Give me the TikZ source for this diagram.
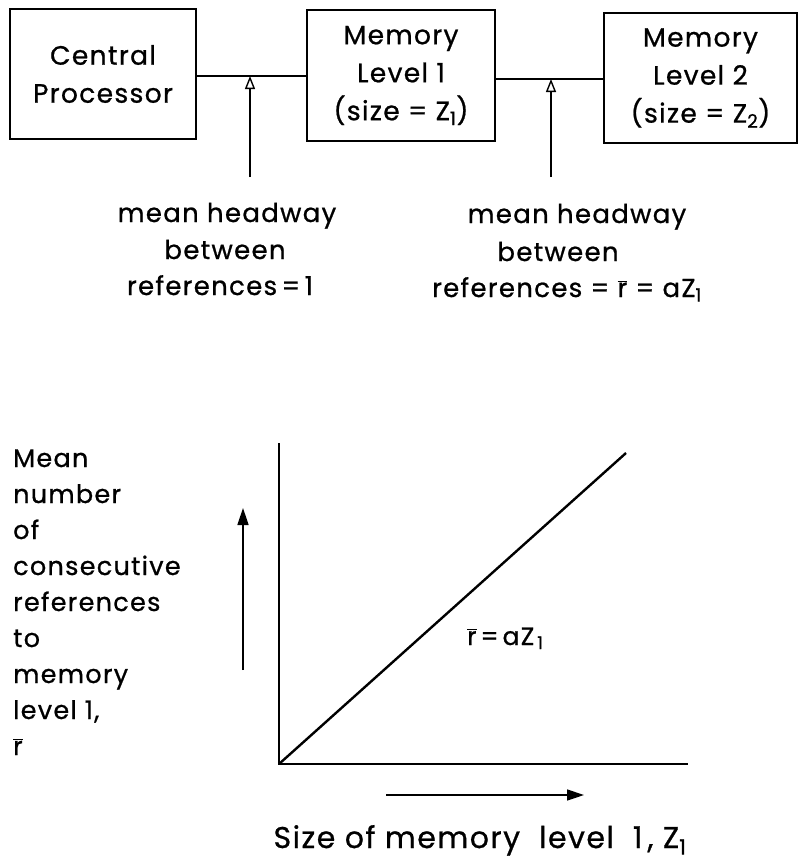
\documentclass[tikz,border=0pt]{standalone}
\usepackage{fontspec}
\setmainfont{Poppins}[LetterSpace=5, FakeBold=0.8]
\usetikzlibrary{arrows.meta}
\newcommand\boxfont{\fontsize{26.5}{38}\selectfont}
\newcommand\labfont{\fontsize{26}{37}\selectfont}
\newcommand\ylabfont{\fontsize{25.5}{36}\selectfont}
\newcommand\xlabfont{\fontsize{30}{36}\selectfont}
\newcommand\rlabfont{\fontsize{25}{28}\selectfont}
\newcommand\rbar{\ensuremath{\overline{\mbox{r}}}}
\begin{document}
\begin{tikzpicture}[x=1pt,y=-1pt,
  box/.style={draw, line width=1.5pt, inner sep=0pt, align=center, font=\boxfont},
  lab/.style={inner sep=0pt, anchor=base, font=\labfont},
  ylab/.style={inner sep=0pt, anchor=base west, font=\ylabfont},
  conn/.style={line width=2.2pt},
  refarrow/.style={line width=1.4pt, -{Triangle[open, length=13pt, width=10pt, line width=1.4pt]}},
  axis/.style={line width=1.6pt},
  diag/.style={line width=2.4pt},
  dirarrow/.style={line width=1.5pt, -{Triangle[length=17pt, width=11pt]}}
]
\useasboundingbox (0,0) rectangle (801,867);
% boxes
\node[box, minimum width=186pt, minimum height=130pt] (cp) at (103,74) {Central\\Processor};
\node[box, minimum width=188pt, minimum height=131pt] (m1) at (401,75.5) {Memory\\Level 1\\(size = Z\textsubscript{1})};
\node[box, minimum width=193pt, minimum height=130pt] (m2) at (700.5,78) {Memory\\Level 2\\(size = Z\textsubscript{2})};
% junctions
\coordinate (j1) at (250,76);
\coordinate (j2) at (551,79);
\draw[conn] (cp.east |- j1) -- (m1.west |- j1);
\draw[conn] (m1.east |- j2) -- (m2.west |- j2);
\coordinate (a1) at (250,177);
\coordinate (a2) at (551,177);
\draw[refarrow] (a1) -- (j1);
\draw[refarrow] (a2) -- (j2);
% labels
\node[lab] (l1a) at (227,222) {mean headway};
\node[lab] (l1b) at (225,259) {between};
\node[lab] (l1c) at (220,295) {references\,=\,1};
\node[lab] (l2a) at (577,223) {mean headway};
\node[lab] (l2b) at (558,261) {between};
\node[lab] (l2c) at (567,297) {references = \rbar{} = aZ\textsubscript{1}};
% graph
\coordinate (O) at (279,764);
\coordinate (ytop) at (279,443);
\coordinate (xend) at (688,764);
\coordinate (dend) at (626,453);
\draw[axis] (ytop) -- (O) -- (xend);
\draw[diag] (O) -- (dend);
\coordinate (ua0) at (243,670);
\coordinate (ua1) at (243,508);
\draw[dirarrow] (ua0) -- (ua1);
\coordinate (ra0) at (386,795);
\coordinate (ra1) at (584,795);
\draw[dirarrow] (ra0) -- (ra1);
\node[inner sep=0pt, anchor=base west, font=\rlabfont] (rl) at (467,645) {\rbar\hspace{4pt}=\hspace{4pt}aZ\hspace{3pt}\textsubscript{1}};
\node[inner sep=0pt, anchor=base, font=\xlabfont] (xl) at (480,848) {Size of memory\ \ level\ \ 1\,, Z\textsubscript{1}};
\foreach \t [count=\i from 0] in {Mean,number,of,consecutive,references,to,memory,{level 1,},\rbar}
  \node[ylab] (yl\i) at (13,467+36*\i) {\t};
\end{tikzpicture}
\end{document}
